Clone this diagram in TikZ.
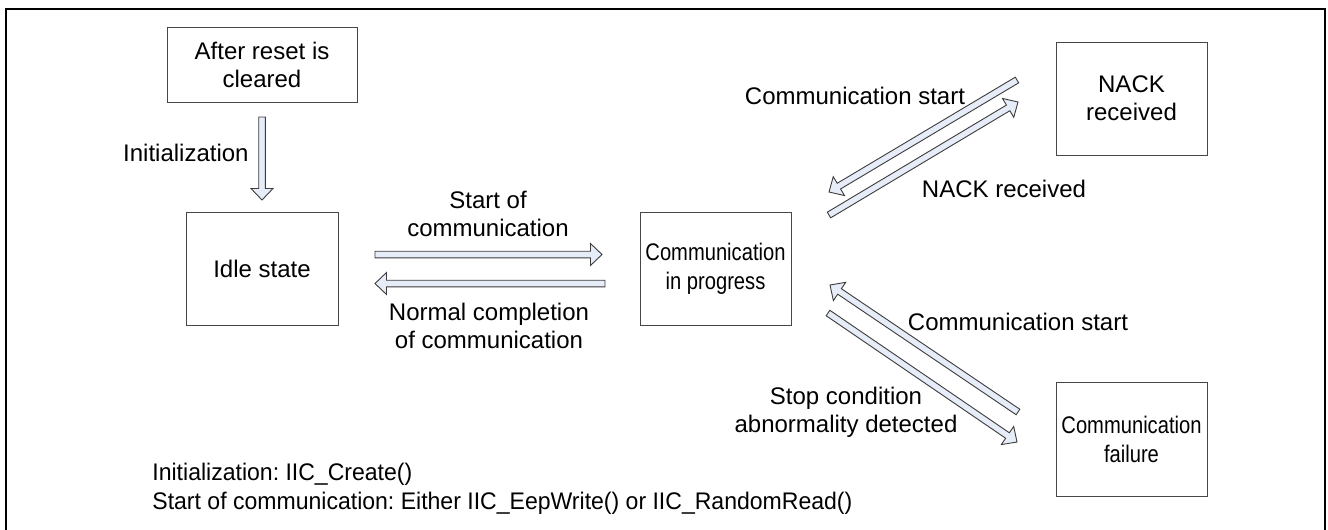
\documentclass[tikz,border=0pt]{standalone}
\usepackage{fontspec}
\setmainfont{Liberation Sans}
\newfontfamily\narrowfont[FakeStretch=0.84]{Liberation Sans}
\newfontfamily\notefont[FakeStretch=0.96]{Liberation Sans}
\usetikzlibrary{calc,positioning}
\definecolor{arrowfill}{RGB}{230,236,248}
\definecolor{arrowline}{RGB}{60,60,60}
\definecolor{boxline}{RGB}{70,70,70}
\frenchspacing
\newcommand{\blockarrow}[2]{%
  \coordinate (neck) at ($(#2)!5.75pt!(#1)$);
  \draw[fatarrow] ($(#1)!1.65pt!90:(#2)$) -- ($(neck)!1.65pt!90:(#2)$)
    -- ($(neck)!5.5pt!90:(#2)$) -- (#2) -- ($(neck)!5.5pt!-90:(#2)$)
    -- ($(neck)!1.65pt!-90:(#2)$) -- ($(#1)!1.65pt!-90:(#2)$) -- cycle;}

\begin{document}
\begin{tikzpicture}
[x=0.5pt, y=-0.5pt, font=\fontsize{12}{14}\selectfont,
state/.style={draw=boxline, line width=0.5pt, align=center, inner sep=0pt},
narrowtxt/.style={font=\narrowfont\fontsize{12}{14.5}\selectfont},
fatarrow/.style={draw=arrowline, fill=arrowfill, line width=0.45pt, line join=miter},
lbl/.style={align=center, inner sep=0pt}]

\useasboundingbox (0,0) rectangle (1328,530);
\draw[line width=1.25pt] (6,530) |- (1325,9) -- (1325,530);

\node (reset) at (262,64.5) [state, minimum width=95pt, minimum height=37.5pt] {After reset is\\cleared};
\node (idle) at (262,268.5) [state, minimum width=76pt, minimum height=56.5pt] {Idle state};
\node (prog) at (715.5,268.5) [state, narrowtxt, minimum width=75.5pt, minimum height=56.5pt] {Communication\\in progress};
\node (nack) at (1131.5,98.5) [state, minimum width=75.5pt, minimum height=56.5pt] {NACK\\received};
\node (fail) at (1131.5,439) [state, narrowtxt, minimum width=75.5pt, minimum height=57pt] {Communication\\failure};

\node (initlbl) at (249,153) [lbl, anchor=east] {Initialization};
\node (startlbl) at (488,214) [lbl] {Start of\\communication};
\node (normlbl) at (489,326) [lbl] {Normal completion\\of communication};
\node (csuplbl) at (855,96) [lbl] {Communication start};
\node (nacklbl) at (1004,189) [lbl] {NACK received};
\node (cslolbl) at (1018,322) [lbl] {Communication start};
\node (stoplbl) at (846,412) [lbl] {Stop condition\\abnormality detected};
\node (notes) at (152,489) [lbl, anchor=west, align=left, font=\notefont\fontsize{12}{14.5}\selectfont]
  {Initialization: IIC\_Create()\\Start of communication: Either IIC\_EepWrite() or IIC\_RandomRead()};

% arrow ends
\coordinate (ini-a) at (262,117);
\coordinate (ini-b) at (262,200);
\coordinate (sta-a) at (375,254.5);
\coordinate (sta-b) at (602,254.5);
\coordinate (nor-a) at (605,283.5);
\coordinate (nor-b) at (375,283.5);
\coordinate (ncs-a) at (1017,80);
\coordinate (ncs-b) at (829,192);
\coordinate (nrc-a) at (829,215);
\coordinate (nrc-b) at (1018,102);
\coordinate (fcs-a) at (1018,412);
\coordinate (fcs-b) at (830,285);
\coordinate (stp-a) at (828,313);
\coordinate (stp-b) at (1017,442);

\blockarrow{ini-a}{ini-b}
\blockarrow{sta-a}{sta-b}
\blockarrow{nor-a}{nor-b}
\blockarrow{ncs-a}{ncs-b}
\blockarrow{nrc-a}{nrc-b}
\blockarrow{fcs-a}{fcs-b}
\blockarrow{stp-a}{stp-b}

\end{tikzpicture}
\end{document}
